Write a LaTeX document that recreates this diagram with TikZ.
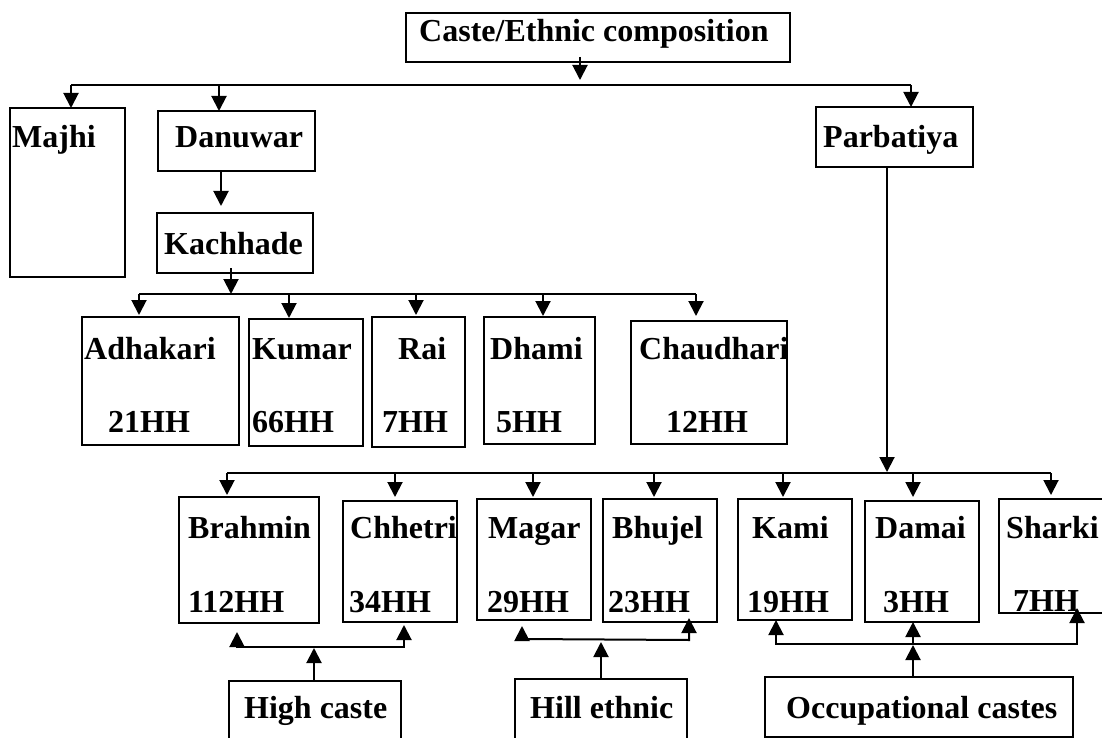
\documentclass[tikz,border=0pt]{standalone}
\usepackage{fontspec}
\setmainfont{Liberation Serif}
\usetikzlibrary{calc, arrows.meta, positioning}

\tikzset{
  box/.style={draw, line width=2pt, rectangle, inner sep=0pt, outer sep=0pt, anchor=north west},
  txt/.style={inner sep=0pt, anchor=base west, font=\fontsize{32}{38}\selectfont\bfseries},
  arr/.style={line width=2pt, -{Triangle[length=15pt,width=15pt]}},
  twoarr/.style={line width=2pt, {Triangle[length=15pt,width=15pt]}-{Triangle[length=15pt,width=15pt]}},
  bus/.style={line width=2pt}
}

\begin{document}
\begin{tikzpicture}[x=1pt, y=-1pt]

\useasboundingbox (0,0) rectangle (1102,738);
\clip (0,0) rectangle (1102,738);

% boxes
\node [box, minimum width=384pt, minimum height=49pt] (caste) at (406,13) {};
\node [box, minimum width=115pt, minimum height=169pt] (majhi) at (10,108) {};
\node [box, minimum width=157pt, minimum height=60pt] (danuwar) at (158,111) {};
\node [box, minimum width=157pt, minimum height=60pt] (parbatiya) at (816,107) {};
\node [box, minimum width=156pt, minimum height=60pt] (kachhade) at (157,213) {};

\node [box, minimum width=157pt, minimum height=128pt] (adhakari) at (82,317) {};
\node [box, minimum width=114pt, minimum height=127pt] (kumar) at (249,319) {};
\node [box, minimum width=93pt, minimum height=130pt] (rai) at (372,317) {};
\node [box, minimum width=111pt, minimum height=127pt] (dhami) at (484,317) {};
\node [box, minimum width=156pt, minimum height=123pt] (chaudhari) at (631,321) {};

\node [box, minimum width=140pt, minimum height=126pt] (brahmin) at (179,497) {};
\node [box, minimum width=114pt, minimum height=121pt] (chhetri) at (343,501) {};
\node [box, minimum width=114pt, minimum height=121pt] (magar) at (477,499) {};
\node [box, minimum width=114pt, minimum height=123pt] (bhujel) at (603,499) {};
\node [box, minimum width=114pt, minimum height=121pt] (kami) at (738,499) {};
\node [box, minimum width=114pt, minimum height=121pt] (damai) at (865,501) {};
\node [box, minimum width=130pt, minimum height=114pt] (sharki) at (999,499) {};

\node [box, minimum width=172pt, minimum height=75pt] (highcaste) at (229,681) {};
\node [box, minimum width=172pt, minimum height=75pt] (hillethnic) at (515,679) {};
\node [box, minimum width=308pt, minimum height=60pt] (occupational) at (765,677) {};

% texts
\node [txt] (caste-t) at (419,42) {Caste/Ethnic composition};
\node [txt] (majhi-t) at (12,148) {Majhi};
\node [txt] (danuwar-t) at (175,148) {Danuwar};
\node [txt] (parbatiya-t) at (823,148) {Parbatiya};
\node [txt] (kachhade-t) at (164,254) {Kachhade};

\node [txt] (adhakari-t) at (84,359) {Adhakari};
\node [txt] (adhakari-h) at (108,432) {21HH};
\node [txt] (kumar-t) at (252,359) {Kumar};
\node [txt] (kumar-h) at (252,432) {66HH};
\node [txt] (rai-t) at (398,359) {Rai};
\node [txt] (rai-h) at (382,432) {7HH};
\node [txt] (dhami-t) at (490,359) {Dhami};
\node [txt] (dhami-h) at (496,432) {5HH};
\node [txt] (chaudhari-t) at (639,359) {Chaudhari};
\node [txt] (chaudhari-h) at (666,432) {12HH};

\node [txt] (brahmin-t) at (188,538) {Brahmin};
\node [txt] (brahmin-h) at (188,612) {112HH};
\node [txt] (chhetri-t) at (350,538) {Chhetri};
\node [txt] (chhetri-h) at (349,612) {34HH};
\node [txt] (magar-t) at (488,538) {Magar};
\node [txt] (magar-h) at (487,612) {29HH};
\node [txt] (bhujel-t) at (612,538) {Bhujel};
\node [txt] (bhujel-h) at (608,612) {23HH};
\node [txt] (kami-t) at (752,538) {Kami};
\node [txt] (kami-h) at (747,612) {19HH};
\node [txt] (damai-t) at (875,538) {Damai};
\node [txt] (damai-h) at (883,612) {3HH};
\node [txt] (sharki-t) at (1006,538) {Sharki};
\node [txt] (sharki-h) at (1013,611) {7HH};

\node [txt] (highcaste-t) at (244,718) {High caste};
\node [txt] (hillethnic-t) at (530,718) {Hill ethnic};
\node [txt] (occupational-t) at (786,718) {Occupational castes};

% first level
\coordinate (b1c) at (580,85);
\coordinate (b1m) at (71,85);
\coordinate (b1d) at (219,85);
\coordinate (b1p) at (911,85);
\draw [arr] ($(b1c |- caste.south)+(0,-5)$) -- ($(b1c)+(0,-5)$);
\draw [bus] (b1m) -- (b1p);
\draw [arr] (b1m) -- (b1m |- majhi.north);
\draw [arr] (b1d) -- (b1d |- danuwar.north);
\draw [arr] (b1p) -- (b1p |- parbatiya.north);

\coordinate (dk) at (221,0);
\draw [arr] (dk |- danuwar.south) -- ($(dk |- kachhade.north)+(0,-7)$);

% Kachhade branch
\coordinate (b2k) at (231,294);
\coordinate (b2a) at (139,294);
\coordinate (b2u) at (289,294);
\coordinate (b2r) at (416,294);
\coordinate (b2h) at (543,294);
\coordinate (b2c) at (696,294);
\draw [arr] ($(b2k |- kachhade.south)+(0,-5)$) -- (b2k);
\draw [bus] (b2a) -- (b2c);
\draw [arr] (b2a) -- ($(b2a |- adhakari.north)+(0,-2)$);
\draw [arr] (b2u) -- ($(b2u |- kumar.north)+(0,-1)$);
\draw [arr] (b2r) -- ($(b2r |- rai.north)+(0,-2)$);
\draw [arr] (b2h) -- ($(b2h |- dhami.north)+(0,-1)$);
\draw [arr] (b2c) -- ($(b2c |- chaudhari.north)+(0,-5)$);

% Parbatiya branch
\coordinate (b3p) at (887,473);
\coordinate (b3b) at (227,473);
\coordinate (b3c) at (395,473);
\coordinate (b3m) at (533,473);
\coordinate (b3j) at (654,473);
\coordinate (b3k) at (783,473);
\coordinate (b3d) at (913,473);
\coordinate (b3s) at (1051,473);
\draw [arr] (b3p |- parbatiya.south) -- ($(b3p)+(0,-1)$);
\draw [bus] (b3b) -- (b3s);
\draw [arr] (b3b) -- ($(b3b |- brahmin.north)+(0,-2)$);
\draw [arr] (b3c) -- ($(b3c |- chhetri.north)+(0,-4)$);
\draw [arr] (b3m) -- ($(b3m |- magar.north)+(0,-2)$);
\draw [arr] (b3j) -- ($(b3j |- bhujel.north)+(0,-2)$);
\draw [arr] (b3k) -- ($(b3k |- kami.north)+(0,-2)$);
\draw [arr] (b3d) -- ($(b3d |- damai.north)+(0,-4)$);
\draw [arr] (b3s) -- ($(b3s |- sharki.north)+(0,-4)$);

% groups
\coordinate (hcL) at (237,647);
\coordinate (hcR) at (404,647);
\coordinate (hcA) at (314,648);
\draw [twoarr] ($(hcL)+(0,-15)$) -- (hcL) -- (hcR) -- ($(hcR |- chhetri.south)+(0,3)$);
\draw [arr] (hcA |- highcaste.north) -- (hcA);

\coordinate (heL) at (522,639);
\coordinate (heR) at (689,640);
\coordinate (heA) at (601,642);
\draw [twoarr] ($(heL)+(0,-13)$) -- (heL) -- (heR) -- ($(heR |- bhujel.south)+(0,-4)$);
\draw [arr] (heA |- hillethnic.north) -- (heA);

\coordinate (ocL) at (776,644);
\coordinate (ocM) at (913,644);
\coordinate (ocR) at (1077,644);
\draw [twoarr] (ocL |- kami.south) -- (ocL) -- (ocR) -- ($(ocR |- sharki.south)+(0,-5)$);
\draw [arr] (ocM) -- (ocM |- damai.south);
\draw [arr] (ocM |- occupational.north) -- ($(ocM)+(0,1)$);

\end{tikzpicture}
\end{document}
